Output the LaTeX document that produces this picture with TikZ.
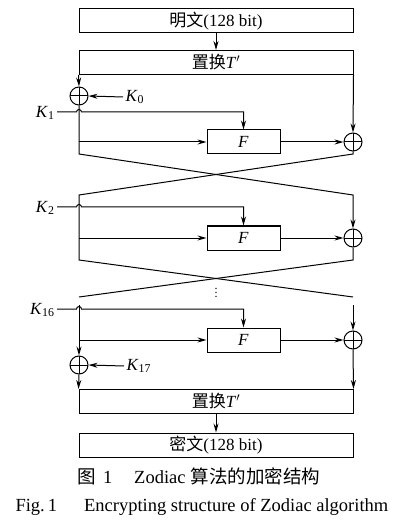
\documentclass[tikz,border=0pt]{standalone}
\usepackage{fontspec}
\setmainfont{Liberation Serif}
\newfontfamily\cjk{Noto Sans CJK SC}
\usepackage{tikz}
\usetikzlibrary{arrows.meta,positioning,calc}

\begin{document}
\begin{tikzpicture}[
  x=1pt, y=-1pt,
  line width=1pt,
  font=\fontsize{17}{20}\selectfont,
  wide/.style={rectangle, draw, minimum width=274pt, minimum height=24pt, inner sep=0pt},
  fblock/.style={rectangle, draw, minimum width=73pt, minimum height=24pt, inner sep=0pt},
  xor/.style={circle, draw, minimum size=18pt, inner sep=0pt,
    path picture={\draw (path picture bounding box.north) -- (path picture bounding box.south)
      (path picture bounding box.west) -- (path picture bounding box.east);}},
  arr/.style={-{Stealth[length=9pt, width=5pt]}},
  key/.style={inner sep=2pt},
  caption/.style={anchor=west, inner sep=0pt, font=\fontsize{18.5}{22}\selectfont}
]
  \useasboundingbox (0,0) rectangle (407,526);
  % input and initial permutation
  \node[wide] (plain) at (216,21) {{\cjk 明文}(128 bit)};
  \node[wide] (perm1) at (216,62.5) {{\cjk 置换}\textit{T}$'$};
  \draw[arr] (plain) -- (perm1);
  %
  \node[xor] (x0) at (79,96) {};
  \node[xor] (x1) at (353,142) {};
  \node[fblock] (f1) at (243.5,142) {\textit{F}};
  \node[key, anchor=west] (k0) at (123,97) {\textit{K}\textsubscript{0}};
  \node[key, anchor=east] (k1) at (57,113) {\textit{K}\textsubscript{1}};
  \draw[arr] (perm1.south west) -- (x0.north);
  \draw[arr] (perm1.south east) -- (x1.north);
  \draw[arr] (k0.west) -- (x0.east);
  \coordinate (h1) at (79,112);
  \draw[arr] (k1.east |- h1) -- ([xshift=-2.5pt]h1) arc[start angle=180, end angle=0, radius=2.5pt]
    -- (f1.north |- h1) -- (f1.north);
  \draw[arr] (f1.west -| x0) -- (f1.west);
  \draw[arr] (f1.east) -- (x1.west);
  %
  \coordinate (b1l) at (79,154);
  \coordinate (b1r) at (353,154);
  \coordinate (a2l) at (79,195);
  \coordinate (a2r) at (353,195);
  \coordinate (b2l) at (79,260);
  \coordinate (b2r) at (353,260);
  \coordinate (a3l) at (79,297);
  \coordinate (a3r) at (353,297);
  % round 2
  \node[xor] (x2) at (353,238) {};
  \node[fblock] (f2) at (243.5,238) {\textit{F}};
  \node[key, anchor=east] (k2) at (57,208) {\textit{K}\textsubscript{2}};
  \draw[arr] (x0.south) -- (b1l) -- (a2r) -- (x2.north);
  \draw (x1.south) -- (b1r) -- (a2l) -- (b2l) -- (a3r);
  \draw (x2.south) -- (b2r) -- (a3l);
  \coordinate (h2) at (79,207);
  \draw[arr] (k2.east |- h2) -- ([xshift=-2.5pt]h2) arc[start angle=180, end angle=0, radius=2.5pt]
    -- (f2.north |- h2) -- (f2.north);
  \draw[arr] (f2.west -| a2l) -- (f2.west);
  \draw[arr] (f2.east) -- (x2.west);
  \node[font=\fontsize{12}{12}\selectfont] (dots) at (216,290) {$\vdots$};
  % round 16
  \coordinate (a16l) at (79,305);
  \coordinate (a16r) at (353,305);
  \node[xor] (x16) at (353,340) {};
  \node[xor] (x17) at (79,365) {};
  \node[fblock] (f3) at (243.5,340) {\textit{F}};
  \node[key, anchor=east] (k16) at (57,310) {\textit{K}\textsubscript{16}};
  \node[key, anchor=west] (k17) at (124,366) {\textit{K}\textsubscript{17}};
  \node[wide] (perm2) at (216,401.5) {{\cjk 置换}\textit{T}$'$};
  \node[wide] (cipher) at (216,445) {{\cjk 密文}(128 bit)};
  \coordinate (h16) at (79,309);
  \draw[arr] (k16.east |- h16) -- ([xshift=-2.5pt]h16) arc[start angle=180, end angle=0, radius=2.5pt]
    -- (f3.north |- h16) -- (f3.north);
  \draw[arr] (a16r) -- (x16.north);
  \draw[arr] (a16l) -- (x17.north);
  \draw[arr] (f3.west -| a16l) -- (f3.west);
  \draw[arr] (f3.east) -- (x16.west);
  \draw[arr] (k17.west) -- (x17.east);
  \draw[arr] (x16.south) -- (perm2.north east);
  \draw[arr] (x17.south) -- (perm2.north west);
  \draw[arr] (perm2) -- (cipher);
  % caption
  \node[caption] (cap1) at (77,476)
    {{\cjk 图}\hspace{7pt}1\hspace{22pt}Zodiac\hspace{5pt}{\cjk 算法的加密结构}};
  \node[caption] (cap2) at (15,507)
    {Fig.\,1\hspace{27pt}Encrypting structure of Zodiac algorithm};
\end{tikzpicture}
\end{document}
